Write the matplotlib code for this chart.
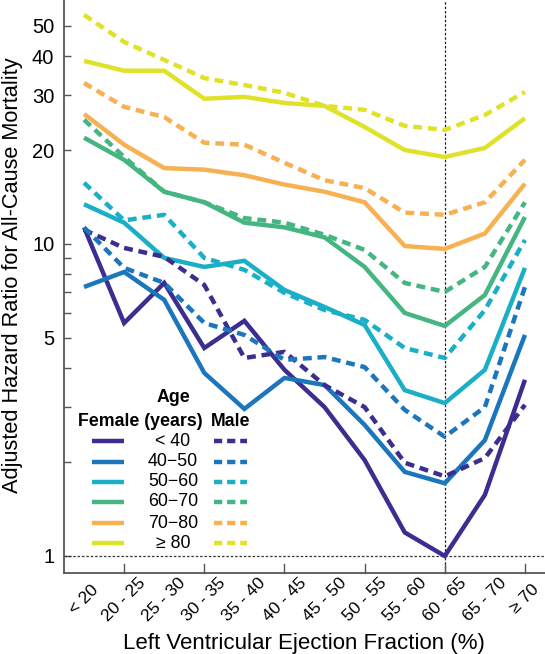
import matplotlib
matplotlib.use("Agg")
import matplotlib.pyplot as plt
import numpy as np
from matplotlib.lines import Line2D
from matplotlib.ticker import FixedLocator, NullFormatter

plt.rcParams['font.family'] = ['Liberation Sans', 'DejaVu Sans']

categories = ["< 20", "20 - 25", "25 - 30", "30 - 35", "35 - 40", "40 - 45",
              "45 - 50", "50 - 55", "55 - 60", "60 - 65", "65 - 70", "\u2265 70"]
age_groups = ["< 40", "40\u221250", "50\u221260", "60\u221270", "70\u221280", "\u2265 80"]
colors = ["#3c2e8e", "#1b76bb", "#1aafc7", "#45b582", "#f7b152", "#e0e22a"]

female_lt40 = [11.3, 5.58, 7.50, 4.64, 5.67, 3.95, 3.00, 2.03, 1.19, 1.00, 1.57, 3.67]
female_40_50 = [7.28, 8.13, 6.62, 3.86, 2.96, 3.72, 3.53, 2.63, 1.86, 1.71, 2.35, 5.11]
female_50_60 = [13.4, 11.7, 9.02, 8.44, 8.83, 7.12, 6.28, 5.50, 3.40, 3.09, 3.95, 8.38]
female_60_70 = [21.9, 18.6, 14.7, 13.6, 11.7, 11.3, 10.5, 8.44, 6.01, 5.46, 6.86, 12.2]
female_70_80 = [26.1, 20.8, 17.5, 17.3, 16.6, 15.5, 14.7, 13.6, 9.85, 9.64, 10.8, 15.6]
female_ge80 = [38.6, 35.9, 35.9, 29.2, 29.6, 28.3, 27.7, 23.7, 20.0, 19.0, 20.3, 25.3]

male_lt40 = [11.1, 9.71, 9.09, 7.39, 4.31, 4.51, 3.53, 3.00, 1.99, 1.80, 2.06, 3.05]
male_40_50 = [11.3, 8.38, 7.50, 5.58, 5.11, 4.25, 4.34, 4.03, 2.94, 2.41, 3.00, 7.28]
male_50_60 = [15.7, 11.9, 12.4, 9.02, 8.26, 6.97, 6.14, 5.71, 4.64, 4.31, 6.14, 10.3]
male_60_70 = [25.0, 19.0, 14.7, 13.6, 12.1, 11.7, 10.7, 9.57, 7.50, 7.02, 8.44, 13.6]
male_70_80 = [32.8, 27.5, 25.5, 21.1, 20.8, 18.2, 16.0, 15.1, 12.6, 12.4, 13.6, 18.6]
male_ge80 = [54.2, 44.4, 38.9, 34.0, 32.3, 30.5, 27.7, 26.9, 23.9, 23.2, 25.9, 30.7]

female = [female_lt40, female_40_50, female_50_60, female_60_70, female_70_80, female_ge80]
male = [male_lt40, male_40_50, male_50_60, male_60_70, male_70_80, male_ge80]

W, H = 545, 654
fig = plt.figure(figsize=(W / 100, H / 100), dpi=100)
ax = fig.add_axes([64 / W, (H - 573) / H, 1 - 64 / W, 573 / H])

x = np.arange(len(categories))
lw = 3.2
dash = (0, (2.0, 1.3))
for vals, c in zip(female, colors):
    ax.plot(x, vals, color=c, lw=lw, solid_capstyle='butt', solid_joinstyle='miter', zorder=3)
for vals, c in zip(male, colors):
    ax.plot(x, vals, color=c, lw=lw, linestyle=dash, dash_capstyle='butt', zorder=3)

ax.set_yscale('log')
ax.set_ylim(0.882, 60.5)
ax.set_xlim(-0.5, 11.5)

ax.axhline(1, color='#333333', lw=0.9, linestyle=(0, (2, 1.5)), zorder=2)
ax.axvline(9, color='#222222', lw=0.9, linestyle=(0, (2, 1.5)), zorder=2)

major = [1, 5, 10, 20, 30, 40, 50]
minor = [2, 3, 4, 6, 7, 8, 9]
ax.yaxis.set_major_locator(FixedLocator(major))
ax.yaxis.set_minor_locator(FixedLocator(minor))
ax.yaxis.set_minor_formatter(NullFormatter())
ax.set_yticklabels([str(v) for v in major])

ax.set_xticks(x)
ax.set_xticklabels(categories, rotation=45, ha='center', va='center', fontsize=12.5)
ax.tick_params(axis='x', which='major', length=0, pad=19)
for i in range(1, len(categories), 2):
    ax.plot([i, i], [0, 0.015], transform=ax.get_xaxis_transform(), color='#555555', lw=1.0, clip_on=False)

ax.tick_params(axis='y', which='both', direction='in', length=5, width=1.0, color='#555555', labelsize=14.5, pad=7)

for s in ['top', 'right']:
    ax.spines[s].set_visible(False)
for s in ['left', 'bottom']:
    ax.spines[s].set_color('#555555')
    ax.spines[s].set_linewidth(1.3)


def fx(px):
    return px / W


def fy(py):
    return 1 - py / H


fig.text(fx(304), fy(649), "Left Ventricular Ejection Fraction (%)", fontsize=16,
         ha='center', va='baseline')
fig.text(fx(18), fy(275), "Adjusted Hazard Ratio for All-Cause Mortality", fontsize=15.7,
         ha='center', va='baseline', rotation=90, rotation_mode='anchor')

# Legend (manual layout in figure pixels)
fs_leg = 12.8
fig.text(fx(173), fy(398), "Age", fontsize=fs_leg, fontweight='bold', ha='center', va='center')
fig.text(fx(140), fy(421), "Female (years)", fontsize=fs_leg, fontweight='bold', ha='center', va='center')
fig.text(fx(231), fy(421), "Male", fontsize=fs_leg, fontweight='bold', ha='center', va='center')
row_y = [441, 462, 482, 502, 523, 543]
for ry, lab, c in zip(row_y, age_groups, colors):
    fig.add_artist(Line2D([fx(92), fx(124)], [fy(ry), fy(ry)], color=c, lw=lw, solid_capstyle='butt'))
    fig.add_artist(Line2D([fx(214), fx(247)], [fy(ry), fy(ry)], color=c, lw=lw,
                          linestyle=(0, (1.85, 1.1)), dash_capstyle='butt'))
    fig.text(fx(173), fy(ry), lab, fontsize=fs_leg, ha='center', va='center')

fig.savefig("out.png", dpi=100)
